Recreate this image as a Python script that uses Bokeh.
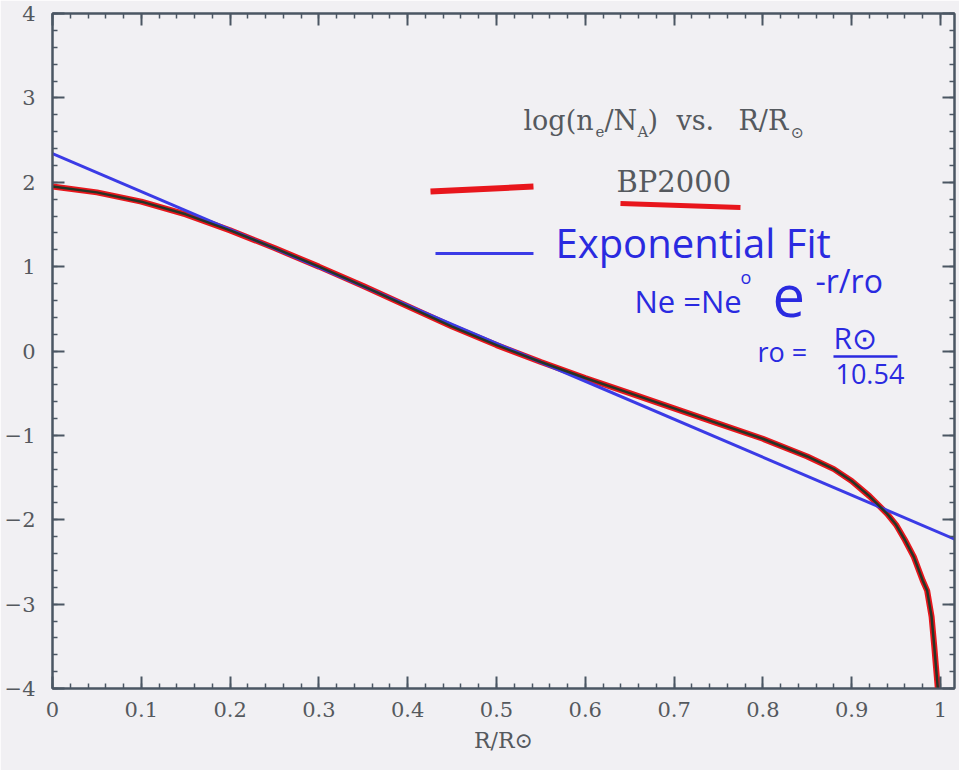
from bokeh.plotting import figure
from bokeh.models import Label, Arrow, LinearAxis, FixedTicker, NumeralTickFormatter, Range1d
from bokeh.embed import file_html
from bokeh.resources import INLINE

# ---- data ----
r_bp2000 = [0.0, 0.05, 0.1, 0.15, 0.2, 0.25, 0.3, 0.35, 0.4, 0.45, 0.5, 0.55, 0.6,
            0.65, 0.7, 0.75, 0.8, 0.85, 0.88, 0.9, 0.92, 0.94, 0.95, 0.96, 0.97,
            0.98, 0.985, 0.99, 0.993, 0.995, 0.997]
log_ne_bp2000 = [1.95, 1.88, 1.77, 1.62, 1.43, 1.22, 1.00, 0.77, 0.53, 0.29, 0.07, -0.13, -0.32,
                 -0.50, -0.68, -0.86, -1.04, -1.25, -1.40, -1.54, -1.72, -1.93, -2.06, -2.24, -2.44,
                 -2.72, -2.84, -3.15, -3.50, -3.75, -4.0]
r_fit = [0.0, 1.016]
log_ne_fit = [2.34, -2.23]

x_ticks = [0, 0.1, 0.2, 0.3, 0.4, 0.5, 0.6, 0.7, 0.8, 0.9, 1.0]
x_minor = [i / 50 for i in range(0, 51)]
y_ticks = [-4, -3, -2, -1, 0, 1, 2, 3, 4]
y_minor = [-4 + i / 5 for i in range(0, 41)]
y_tick_labels = {-4: "\u22124", -3: "\u22123", -2: "\u22122", -1: "\u22121",
                 0: "0", 1: "1", 2: "2", 3: "3", 4: "4"}

# ---- figure ----
BG = "#f1f0f3"
AX = "#4b5663"
TXT = "#55595e"
BLUE_INK = "#2a2ae0"
SERIF = "DejaVu Serif"
HAND = "Open Sans"

p = figure(width=959, height=770, x_range=Range1d(0, 1.0158), y_range=Range1d(-4, 4),
           output_backend="svg", toolbar_location=None,
           min_border_left=52, min_border_right=5, min_border_top=13, min_border_bottom=82,
           background_fill_color=BG, border_fill_color=BG)
p.xgrid.visible = False
p.ygrid.visible = False
p.outline_line_color = AX
p.outline_line_width = 2

bottom = p.below[0]
left = p.left[0]

xt = FixedTicker(ticks=x_ticks, minor_ticks=x_minor)
yt = FixedTicker(ticks=y_ticks, minor_ticks=y_minor)

top = LinearAxis(ticker=xt)
right = LinearAxis(ticker=yt)
p.add_layout(top, "above")
p.add_layout(right, "right")

bottom.ticker = xt
left.ticker = yt

for ax in [bottom, left, top, right]:
    ax.axis_line_color = AX
    ax.axis_line_width = 2
    ax.major_tick_line_color = AX
    ax.minor_tick_line_color = AX
    ax.major_tick_line_width = 2
    ax.minor_tick_line_width = 1.5
    ax.major_tick_in = 12
    ax.major_tick_out = 0
    ax.minor_tick_in = 5
    ax.minor_tick_out = 0
    ax.major_label_text_font = SERIF
    ax.major_label_text_font_size = "21px"
    ax.major_label_text_color = TXT

top.major_label_text_font_size = "0px"
top.major_label_standoff = 0
top.major_label_overrides = {t: "" for t in x_ticks}
right.major_label_text_font_size = "0px"
right.major_label_standoff = 0
right.major_label_overrides = {t: "" for t in y_ticks}

bottom.formatter = NumeralTickFormatter(format="0.[0]")
bottom.major_label_standoff = 13
bottom.axis_label = "R/R\u2299"
bottom.axis_label_text_font = SERIF
bottom.axis_label_text_font_style = "normal"
bottom.axis_label_text_font_size = "22px"
bottom.axis_label_text_color = TXT
bottom.axis_label_standoff = 8
left.major_label_overrides = y_tick_labels
left.major_label_standoff = 17

# ---- data lines ----
p.line(r_bp2000, log_ne_bp2000, line_color="#e8161c", line_width=6)
p.line(r_fit, log_ne_fit, line_color="#3b3be6", line_width=3)
p.line(r_bp2000, log_ne_bp2000, line_color="#263526", line_width=2.5)

# ---- pixel -> data helpers for annotations ----
def dx(px):
    return (px - 52) / 888.0

def dy(py):
    return (350.5 - py) / 84.4

def lab(text, px, py, size, color, font):
    # py is the wanted baseline in pixels; compensate the renderer's baseline offset
    p.add_layout(Label(x=dx(px), y=dy(py - 0.38 * size), text=text, text_font=font,
                       text_font_size=f"{size}px", text_color=color,
                       text_baseline="alphabetic", text_font_style="normal"))

# title
lab("log(n", 523, 130, 27, TXT, SERIF)
lab("e", 595, 137, 15, TXT, SERIF)
lab("/N", 604, 130, 27, TXT, SERIF)
lab("A", 637, 137, 15, TXT, SERIF)
lab(")", 647, 130, 27, TXT, SERIF)
lab("vs.", 676, 130, 27, TXT, SERIF)
lab("R/R", 738, 130, 27, TXT, SERIF)
lab("\u2299", 790, 138, 16, TXT, SERIF)

# legend
lab("BP2000", 616, 192, 29, TXT, SERIF)
p.add_layout(Arrow(end=None, x_start=dx(430), y_start=dy(191), x_end=dx(533), y_end=dy(186),
                   line_color="#e8161c", line_width=6))
p.add_layout(Arrow(end=None, x_start=dx(620), y_start=dy(203), x_end=dx(740), y_end=dy(207),
                   line_color="#e8161c", line_width=5))
p.add_layout(Arrow(end=None, x_start=dx(435), y_start=dy(253), x_end=dx(533), y_end=dy(253),
                   line_color="#3b3be6", line_width=3))

# handwritten notes
lab("Exponential Fit", 555, 257, 40, BLUE_INK, HAND)
lab("Ne =Ne", 634, 312, 31, BLUE_INK, HAND)
lab("o", 740, 283, 18, BLUE_INK, HAND)
lab("e", 772, 318, 58, BLUE_INK, HAND)
lab("-r/ro", 815, 292, 32, BLUE_INK, HAND)
lab("ro =", 757, 361, 27, BLUE_INK, HAND)
lab("R\u2299", 833, 348, 30, BLUE_INK, HAND)
p.add_layout(Arrow(end=None, x_start=dx(833), y_start=dy(356), x_end=dx(897), y_end=dy(356),
                   line_color=BLUE_INK, line_width=2.5))
lab("10.54", 835, 384, 27, BLUE_INK, HAND)

open("out.html", "w").write(file_html(p, INLINE))
